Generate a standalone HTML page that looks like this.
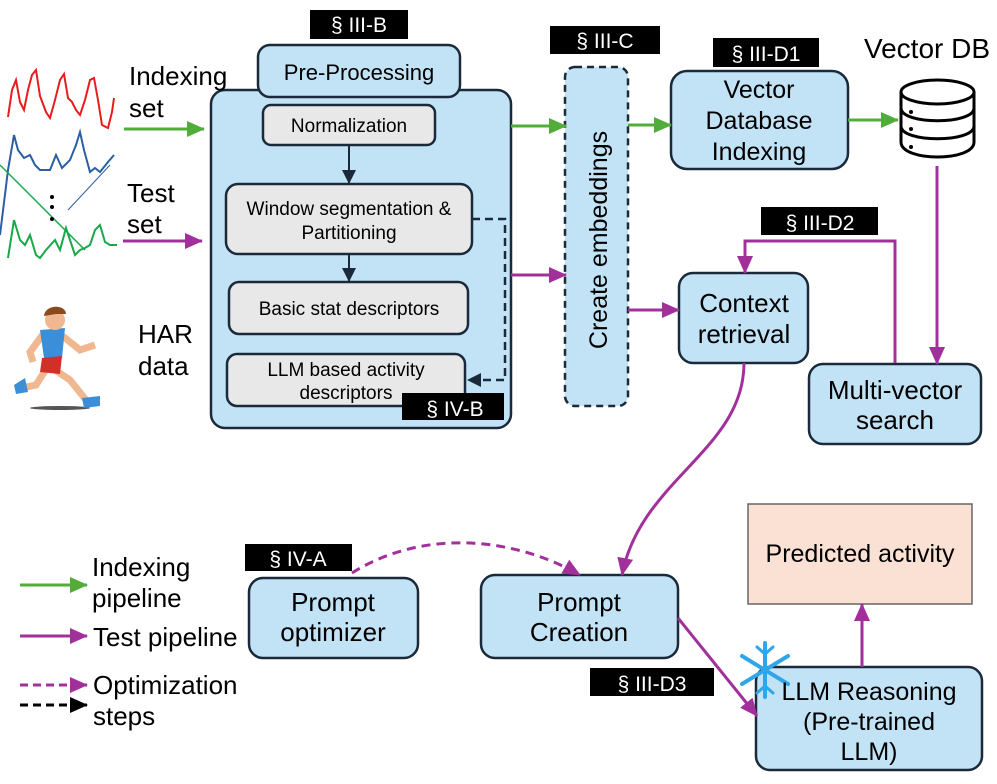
<!DOCTYPE html>
<html><head><meta charset="utf-8"><style>
body{margin:0;background:#fff}
svg{display:block;font-family:"Liberation Sans",sans-serif}
</style></head><body>
<svg width="997" height="784" viewBox="0 0 997 784">
<defs>
<marker id="p" markerWidth="18" markerHeight="16" refX="17" refY="8" orient="auto" markerUnits="userSpaceOnUse"><path d="M0,0 L18,8 L0,16z" fill="#a2309b"/></marker>
<marker id="gb" markerWidth="18" markerHeight="16" refX="17" refY="8" orient="auto" markerUnits="userSpaceOnUse"><path d="M0,0 L18,8 L0,16z" fill="#52ac3a"/></marker>
<marker id="k" markerWidth="14" markerHeight="14" refX="13" refY="7" orient="auto" markerUnits="userSpaceOnUse"><path d="M0,0 L14,7 L0,14z" fill="#1b2a3a"/></marker>
<marker id="kb" markerWidth="18" markerHeight="16" refX="17" refY="8" orient="auto" markerUnits="userSpaceOnUse"><path d="M0,0 L18,8 L0,16z" fill="#000"/></marker>
</defs>
<g stroke="#1b2a3a" stroke-width="2.5">
<rect x="211" y="90" width="300" height="338" rx="14" fill="#c2e3f5"/>
<rect x="258" y="45" width="202" height="52" rx="12" fill="#c2e3f5"/>
<rect x="263" y="105" width="172" height="40" rx="8" fill="#e8e8e8"/>
<rect x="226" y="184" width="246" height="70" rx="12" fill="#e8e8e8"/>
<rect x="229" y="282" width="239" height="52" rx="10" fill="#e8e8e8"/>
<rect x="227" y="354" width="238" height="52" rx="10" fill="#e8e8e8"/>
<rect x="565" y="67" width="63" height="339" rx="10" fill="#c2e3f5" stroke-dasharray="7,5"/>
<rect x="671" y="71" width="177" height="98" rx="16" fill="#c2e3f5"/>
<rect x="679" y="273" width="129" height="90" rx="14" fill="#c2e3f5"/>
<rect x="809" y="364" width="172" height="80" rx="14" fill="#c2e3f5"/>
<rect x="249" y="578" width="169" height="80" rx="14" fill="#c2e3f5"/>
<rect x="481" y="575" width="197" height="83" rx="14" fill="#c2e3f5"/>
<rect x="756" y="667" width="226" height="103" rx="14" fill="#c2e3f5"/>
<rect x="748" y="504" width="224" height="100" fill="#fae1d3" stroke="#666" stroke-width="1.5"/>
</g>
<g stroke="#1b2a3a" stroke-width="2" fill="none">
<line x1="349" y1="145" x2="349" y2="183" marker-end="url(#k)"/>
<line x1="349" y1="254" x2="349" y2="281" marker-end="url(#k)"/>
<path d="M472,219 H505 V380 H468" stroke-dasharray="8,5" stroke-width="2.5" marker-end="url(#k)"/>
</g>
<g fill="#000">
<rect x="310" y="10" width="98" height="29"/>
<rect x="550" y="26" width="110" height="28"/>
<rect x="713" y="38" width="106" height="29"/>
<rect x="761" y="207" width="117" height="28"/>
<rect x="402" y="393" width="102" height="27"/>
<rect x="245" y="544" width="107" height="27"/>
<rect x="590" y="668" width="124" height="28"/>
</g>
<g fill="#fff" font-size="21" text-anchor="middle">
<text x="359" y="32">§ III-B</text>
<text x="605" y="48">§ III-C</text>
<text x="766" y="61">§ III-D1</text>
<text x="820" y="230">§ III-D2</text>
<text x="455" y="416">§ IV-B</text>
<text x="298" y="566">§ IV-A</text>
<text x="652" y="691">§ III-D3</text>
</g>
<g fill="none" stroke-width="3">
<line x1="124" y1="129" x2="204" y2="129" stroke="#52ac3a" marker-end="url(#gb)"/>
<line x1="511" y1="126" x2="566" y2="126" stroke="#52ac3a" marker-end="url(#gb)"/>
<line x1="628" y1="125" x2="671" y2="125" stroke="#52ac3a" marker-end="url(#gb)"/>
<line x1="848" y1="120" x2="898" y2="120" stroke="#52ac3a" marker-end="url(#gb)"/>
<line x1="123" y1="241" x2="202" y2="241" stroke="#a2309b" marker-end="url(#p)"/>
<line x1="511" y1="275" x2="566" y2="275" stroke="#a2309b" marker-end="url(#p)"/>
<line x1="628" y1="310" x2="679" y2="310" stroke="#a2309b" marker-end="url(#p)"/>
<path d="M895,363 V241 H745 V273" stroke="#a2309b" marker-end="url(#p)"/>
<line x1="937" y1="166" x2="937" y2="364" stroke="#a2309b" marker-end="url(#p)"/>
<path d="M744,363 C744,450 640,480 622,575" stroke="#a2309b" marker-end="url(#p)"/>
<path d="M352,573 C420,530 510,535 580,575" stroke="#a2309b" stroke-dasharray="9,6" marker-end="url(#p)"/>
<line x1="678" y1="618" x2="757" y2="716" stroke="#a2309b" marker-end="url(#p)"/>
<line x1="862" y1="667" x2="862" y2="604" stroke="#a2309b" marker-end="url(#p)"/>
<line x1="20" y1="585" x2="87" y2="585" stroke="#52ac3a" marker-end="url(#gb)"/>
<line x1="20" y1="636" x2="87" y2="636" stroke="#a2309b" marker-end="url(#p)"/>
<line x1="20" y1="685" x2="87" y2="685" stroke="#a2309b" stroke-dasharray="8,5" marker-end="url(#p)"/>
<line x1="20" y1="705" x2="87" y2="705" stroke="#000" stroke-dasharray="8,5" marker-end="url(#kb)"/>
</g>
<g fill="#fff" stroke="#000" stroke-width="3">
<path d="M901,92 V142 C901,162 974,162 974,142 V92"/>
<path d="M901,108 C901,125 974,125 974,108"/>
<path d="M901,126 C901,143 974,143 974,126"/>
<ellipse cx="937.5" cy="92" rx="36.5" ry="12"/>
</g>
<g fill="#000"><circle cx="911" cy="112" r="2"/><circle cx="911" cy="129" r="2"/><circle cx="911" cy="147" r="2"/></g>
<g fill="none" stroke-width="2">
<path d="M8,117 L12,90 L16,80 L20,102 L24,110 L28,90 L32,75 L36,70 L40,96 L46,112 L50,118 L55,100 L60,80 L64,74 L68,98 L72,102 L76,110 L80,115 L85,100 L90,80 L94,78 L98,100 L102,125 L108,128 L112,112 L114,98" stroke="#e81c1c"/>
<path d="M0,235 L8,170 L14,135 L18,150 L24,158 L30,155 L35,165 L40,170 L50,170 L56,155 L62,168 L70,160 L76,145 L80,132 L84,150 L90,172 L95,168 L100,172 L108,162 L114,155" stroke="#2a5fa2"/>
<line x1="68" y1="210" x2="110" y2="165" stroke="#2a5fa2" stroke-width="1"/>
<path d="M8,258 L14,220 L20,240 L25,245 L30,235 L36,255 L40,258 L46,250 L55,240 L60,250 L66,228 L70,240 L75,255 L80,250 L85,248 L90,245 L95,230 L100,225 L105,242 L110,245 L117,245" stroke="#18a84a"/>
<line x1="0" y1="165" x2="85" y2="250" stroke="#18a84a" stroke-width="1.5"/>
</g>
<g fill="#000"><circle cx="52" cy="197" r="2"/><circle cx="52" cy="207" r="2"/><circle cx="52" cy="219" r="2"/></g>
<g>
<ellipse cx="60" cy="408" rx="30" ry="2" fill="#555"/>
<path d="M48,366 L36,385 L22,388" stroke="#f0b890" stroke-width="7" fill="none"/>
<path d="M52,368 L70,380 L86,400" stroke="#f0b890" stroke-width="7" fill="none"/>
<path d="M44,333 L30,352 L33,362 M60,334 L80,350 L95,345" stroke="#f0b890" stroke-width="7" fill="none"/>
<path d="M40,330 L65,328 L62,358 L44,358 z" fill="#3a8fd8"/>
<path d="M42,358 L62,356 L60,374 L40,372 z" fill="#d03028"/>
<circle cx="55" cy="320" r="10" fill="#f0b890"/>
<path d="M44,316 C45,304 66,304 66,314 L56,314 z" fill="#8a4a1e"/>
<path d="M14,385 L25,378 L28,392 L16,394 z" fill="#3a8fd8"/>
<path d="M82,398 L100,396 L100,406 L84,408 z" fill="#3a8fd8"/>
</g>
<g stroke="#2ea6e8" stroke-width="4" stroke-linecap="round">
<line x1="765" y1="643" x2="765" y2="697"/>
<line x1="742" y1="656" x2="788" y2="684"/>
<line x1="742" y1="684" x2="788" y2="656"/>
<path d="M757,647 L765,654 L773,647 M757,693 L765,686 L773,693" fill="none" stroke-width="3"/>
</g>
<g fill="#000" text-anchor="middle">
<text x="359" y="80" font-size="22">Pre-Processing</text>
<text x="349" y="132" font-size="19">Normalization</text>
<text x="349" y="215" font-size="19">Window segmentation &amp;</text>
<text x="349" y="239" font-size="19">Partitioning</text>
<text x="349" y="315" font-size="19">Basic stat descriptors</text>
<text x="346" y="376" font-size="19">LLM based activity</text>
<text x="346" y="399" font-size="19">descriptors</text>
<text x="759" y="98" font-size="25">Vector</text>
<text x="759" y="129" font-size="25">Database</text>
<text x="759" y="160" font-size="25">Indexing</text>
<text x="744" y="312" font-size="26">Context</text>
<text x="744" y="343" font-size="26">retrieval</text>
<text x="895" y="399" font-size="26">Multi-vector</text>
<text x="895" y="429" font-size="26">search</text>
<text x="333" y="611" font-size="26">Prompt</text>
<text x="333" y="641" font-size="26">optimizer</text>
<text x="579" y="611" font-size="26">Prompt</text>
<text x="579" y="641" font-size="26">Creation</text>
<text x="869" y="700" font-size="25">LLM Reasoning</text>
<text x="869" y="730" font-size="25">(Pre-trained</text>
<text x="869" y="760" font-size="25">LLM)</text>
<text x="860" y="562" font-size="25">Predicted activity</text>
<text x="927" y="58" font-size="28">Vector DB</text>
<text transform="translate(607,240) rotate(-90)" font-size="25">Create embeddings</text>
</g>
<g fill="#000" font-size="26">
<text x="129" y="85">Indexing</text>
<text x="129" y="117">set</text>
<text x="127" y="202">Test</text>
<text x="127" y="233">set</text>
<text x="138" y="343">HAR</text>
<text x="138" y="375">data</text>
<text x="92" y="576">Indexing</text>
<text x="92" y="607">pipeline</text>
<text x="93" y="646">Test pipeline</text>
<text x="93" y="694">Optimization</text>
<text x="93" y="725">steps</text>
</g>
</svg>
</body></html>
